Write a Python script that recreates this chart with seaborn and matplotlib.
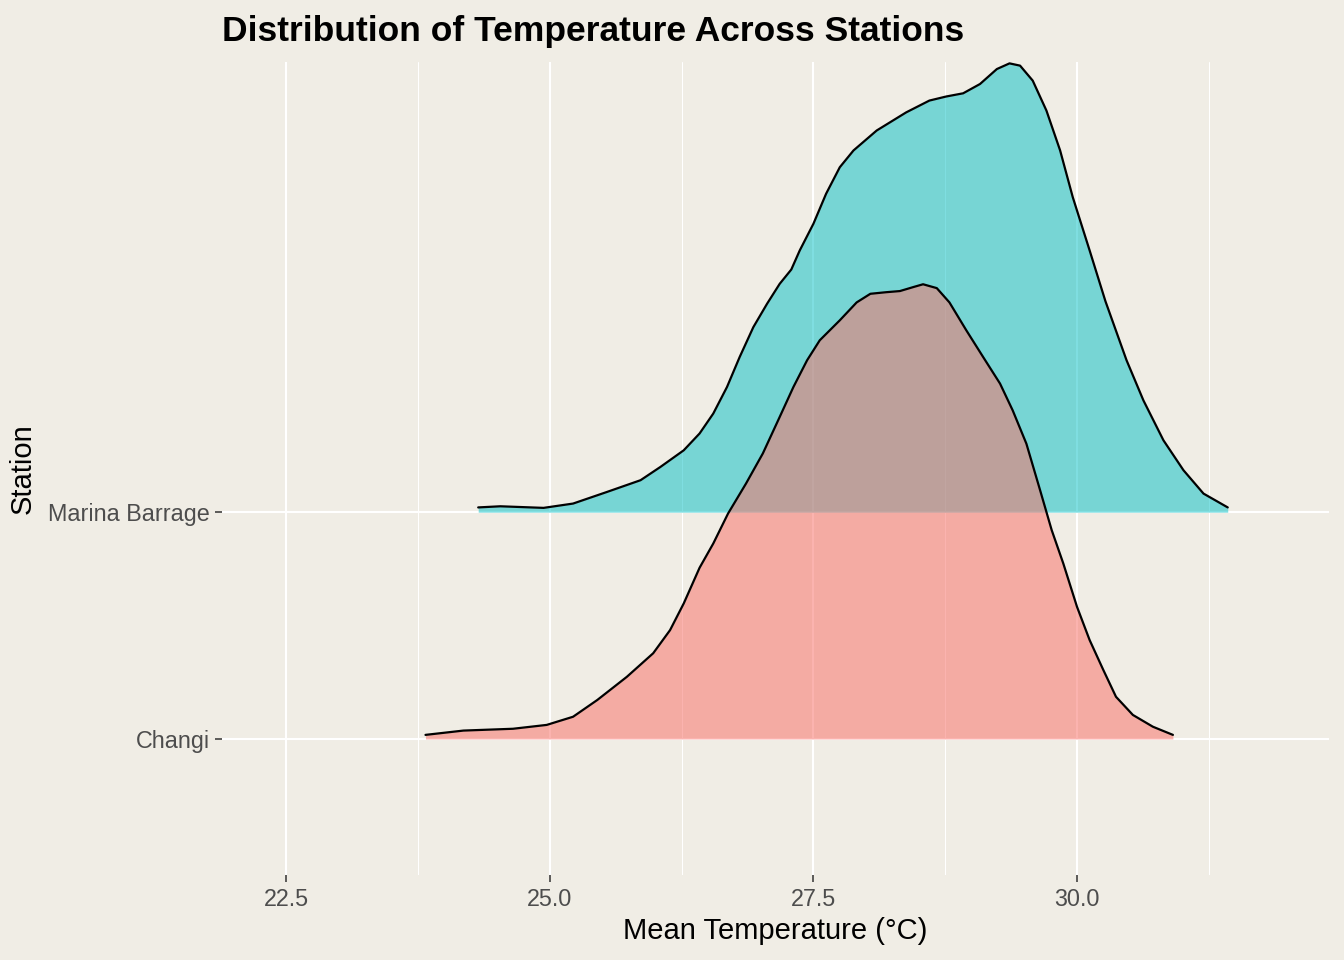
import matplotlib
matplotlib.use("Agg")
import matplotlib.pyplot as plt
import seaborn as sns
from matplotlib.ticker import MultipleLocator, FormatStrFormatter

# ridge heights are in units of the row spacing
stations = ["Changi", "Marina Barrage"]

changi_temp = [23.82, 24.18, 24.65, 24.97, 25.22, 25.45, 25.73, 25.98, 26.14, 26.27,
               26.42, 26.55, 26.69, 26.86, 27.02, 27.18, 27.31, 27.44, 27.56, 27.75,
               27.91, 28.04, 28.19, 28.32, 28.45, 28.54, 28.67, 28.79, 28.95, 29.11,
               29.27, 29.39, 29.52, 29.65, 29.76, 29.87, 30.00, 30.12, 30.25, 30.37,
               30.53, 30.72, 30.91]
changi_height = [0.018, 0.037, 0.045, 0.062, 0.098, 0.172, 0.274, 0.378, 0.480, 0.598,
                 0.755, 0.862, 0.994, 1.126, 1.259, 1.420, 1.552, 1.670, 1.758, 1.846,
                 1.925, 1.963, 1.970, 1.975, 1.993, 2.005, 1.988, 1.925, 1.802, 1.684,
                 1.567, 1.449, 1.302, 1.097, 0.921, 0.774, 0.583, 0.436, 0.304, 0.186,
                 0.106, 0.054, 0.018]

marina_temp = [24.32, 24.53, 24.94, 25.22, 25.54, 25.86, 26.05, 26.27, 26.42, 26.55,
               26.68, 26.80, 26.93, 27.06, 27.18, 27.29, 27.37, 27.50, 27.62, 27.75,
               27.88, 28.10, 28.38, 28.60, 28.76, 28.92, 29.08, 29.24, 29.36, 29.46,
               29.58, 29.71, 29.84, 29.96, 30.12, 30.27, 30.47, 30.63, 30.82, 31.01,
               31.20, 31.43]
marina_height = [0.021, 0.026, 0.019, 0.038, 0.089, 0.141, 0.200, 0.273, 0.347, 0.435,
                 0.552, 0.684, 0.816, 0.919, 1.007, 1.070, 1.154, 1.272, 1.404, 1.521,
                 1.595, 1.683, 1.763, 1.815, 1.833, 1.847, 1.888, 1.954, 1.979, 1.969,
                 1.903, 1.771, 1.595, 1.389, 1.154, 0.930, 0.670, 0.493, 0.317, 0.185,
                 0.082, 0.021]

COLORS = {"Changi": "#F8766D", "Marina Barrage": "#00BFC4"}
ALPHAS = {"Changi": 0.55, "Marina Barrage": 0.5}
BG = "#F0EDE5"

sns.set_theme(style="whitegrid", rc={
    "axes.facecolor": BG,
    "figure.facecolor": BG,
    "grid.color": "white",
    "axes.spines.top": False,
    "axes.spines.right": False,
    "axes.spines.left": False,
    "axes.spines.bottom": False,
})
plt.rcParams["font.family"] = ["Liberation Sans", "DejaVu Sans"]

fig, ax = plt.subplots(figsize=(13.44, 9.6), dpi=100)
fig.subplots_adjust(left=0.1652, right=0.9888, top=0.9354, bottom=0.0885)

# upper ridge first so the lower one sits on top of it
ridges = [
    ("Marina Barrage", 2, marina_temp, marina_height),
    ("Changi", 1, changi_temp, changi_height),
]
for name, base, xs, hs in ridges:
    ys = [base + h for h in hs]
    ax.fill_between(xs, base, ys, color=COLORS[name], alpha=ALPHAS[name],
                    linewidth=0, zorder=2)
    sns.lineplot(x=xs, y=ys, ax=ax, color="black", linewidth=1.6, sort=False,
                 estimator=None, zorder=3)

ax.set_xlim(21.89, 32.39)
ax.set_ylim(0.4, 3.985)
ax.xaxis.set_major_locator(MultipleLocator(2.5))
ax.xaxis.set_minor_locator(MultipleLocator(1.25))
ax.xaxis.set_major_formatter(FormatStrFormatter("%.1f"))
ax.set_yticks([1, 2])
ax.set_yticklabels(stations)

ax.grid(which="major", axis="both", color="white", linewidth=1.5, zorder=1)
ax.grid(which="minor", axis="x", color="white", linewidth=0.75, zorder=1)
ax.set_axisbelow(True)

ax.tick_params(which="major", length=5, width=1.1, color="#333333",
               labelcolor="#4D4D4D", labelsize=16.8, pad=4)
ax.tick_params(which="minor", length=0)
ax.tick_params(axis="x", which="major", bottom=True)
ax.tick_params(axis="y", which="major", left=True)

ax.set_xlabel("Mean Temperature (°C)", fontsize=21, color="black", labelpad=5)
ax.set_ylabel("Station", fontsize=21, color="black", labelpad=8)
ax.set_title("Distribution of Temperature Across Stations", loc="left",
             fontsize=25.5, fontweight="bold", color="black", pad=15)

fig.savefig("out.png", dpi=100, facecolor=BG)
